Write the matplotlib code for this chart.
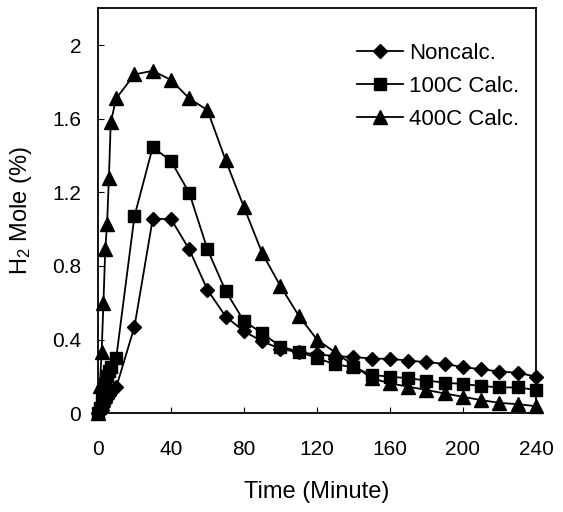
import matplotlib
matplotlib.use("Agg")
import matplotlib.pyplot as plt

plt.rcParams['font.family'] = ['Liberation Sans', 'DejaVu Sans']
plt.rcParams['mathtext.default'] = 'regular'

time = [0, 1, 2, 3, 4, 5, 6, 7, 10, 20, 30, 40, 50, 60, 70, 80, 90, 100, 110, 120,
        130, 140, 150, 160, 170, 180, 190, 200, 210, 220, 230, 240]

noncalc = [0.0, 0.01, 0.02, 0.04, 0.06, 0.08, 0.10, 0.12, 0.14, 0.47, 1.055, 1.055, 0.89, 0.67, 0.525, 0.445,
           0.39, 0.35, 0.33, 0.32, 0.31, 0.305, 0.297, 0.295, 0.286, 0.277, 0.268, 0.25,
           0.239, 0.226, 0.22, 0.198]
calc100 = [0.0, 0.03, 0.07, 0.12, 0.16, 0.20, 0.23, 0.25, 0.30, 1.07, 1.445, 1.37, 1.197, 0.89, 0.663, 0.50,
           0.435, 0.362, 0.335, 0.299, 0.265, 0.25, 0.208, 0.198, 0.19, 0.177, 0.166, 0.158,
           0.148, 0.14, 0.14, 0.126]
calc400 = [0.0, 0.15, 0.33, 0.60, 0.89, 1.03, 1.28, 1.58, 1.71, 1.84, 1.86, 1.81, 1.71, 1.646, 1.373, 1.119,
           0.869, 0.69, 0.53, 0.40, 0.33, 0.26, 0.19, 0.162, 0.144, 0.126, 0.107, 0.089,
           0.071, 0.056, 0.049, 0.038]

series_names = ["Noncalc.", "100C Calc.", "400C Calc."]
x_ticks = [0, 40, 80, 120, 160, 200, 240]
y_ticks = [0, 0.4, 0.8, 1.2, 1.6, 2.0]
y_tick_labels = ["0", "0.4", "0.8", "1.2", "1.6", "2"]

fig = plt.figure(figsize=(5.63, 5.12), dpi=100)
ax = fig.add_axes([0.174, 0.193, 0.778, 0.791])

ax.plot(time, noncalc, color='black', lw=1.3, marker='D', ms=7.5, label=series_names[0], clip_on=False, zorder=3)
ax.plot(time, calc100, color='black', lw=1.3, marker='s', ms=8.5, label=series_names[1], clip_on=False, zorder=3)
ax.plot(time, calc400, color='black', lw=1.3, marker='^', ms=9.5, label=series_names[2], clip_on=False, zorder=3)

ax.set_xlim(0, 240)
ax.set_ylim(0, 2.2)
ax.set_xticks(x_ticks)
ax.set_yticks(y_ticks)
ax.set_yticklabels(y_tick_labels)
ax.tick_params(direction='in', length=4, width=0.8, labelsize=15)
ax.tick_params(axis='x', pad=19)
ax.tick_params(axis='y', pad=12)
for s in ax.spines.values():
    s.set_linewidth(1.3)

ax.set_xlabel("Time (Minute)", fontsize=17, labelpad=16)
ax.set_ylabel("H$_2$ Mole (%)", fontsize=17, labelpad=13)

ax.legend(loc='upper left', bbox_to_anchor=(0.591, 0.914), frameon=False, fontsize=16,
          handlelength=2.07, handletextpad=0.27, labelspacing=0.53, borderaxespad=0, borderpad=0)

fig.savefig("out.png", dpi=100)
